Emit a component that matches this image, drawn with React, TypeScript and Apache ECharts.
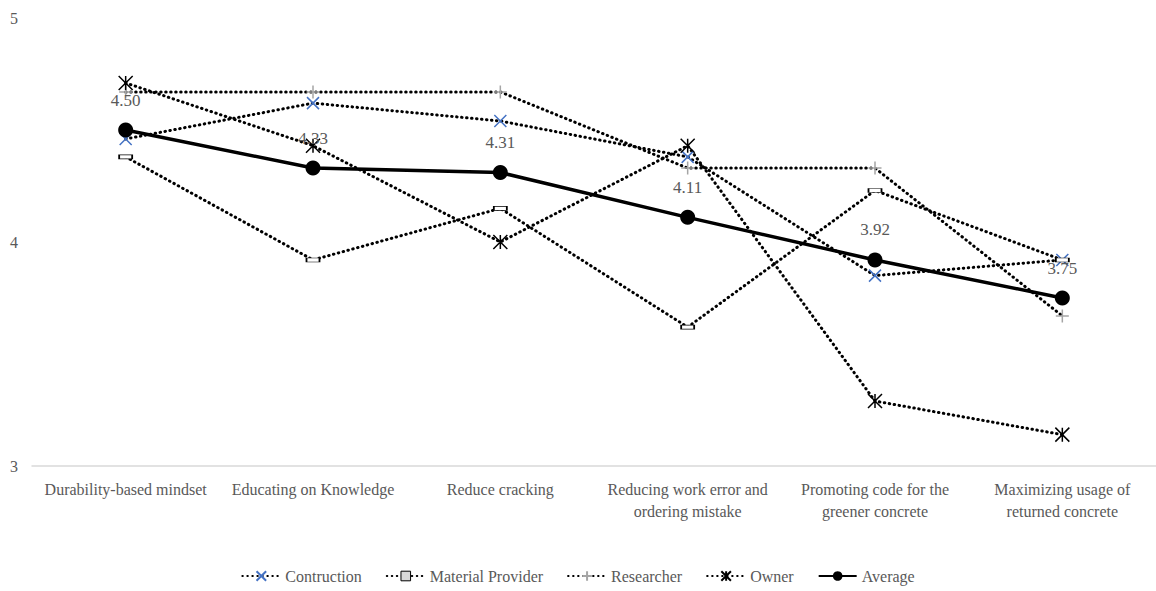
import React, { useEffect, useRef } from "react";
import * as echarts from "echarts";

const categories = [
  "Durability-based mindset",
  "Educating on Knowledge",
  "Reduce cracking",
  "Reducing work error and\nordering mistake",
  "Promoting code for the\ngreener concrete",
  "Maximizing usage of\nreturned concrete",
];
const contruction = [4.46, 4.62, 4.54, 4.38, 3.85, 3.92];
const materialProvider = [4.38, 3.92, 4.15, 3.62, 4.23, 3.92];
const researcher = [4.67, 4.67, 4.67, 4.33, 4.33, 3.67];
const owner = [4.71, 4.43, 4.0, 4.43, 3.29, 3.14];
const average = [4.5, 4.33, 4.31, 4.11, 3.92, 3.75];
const yTicks = { min: 3, max: 5, interval: 1 };

const FONT = "Liberation Serif";
const GRAY = "#595959";

const dotted = {
  color: "#000",
  width: 3,
  type: [0.5, 4.5] as any,
  cap: "round" as const,
};

export default function App() {
  const ref = useRef<HTMLDivElement>(null);
  useEffect(() => {
    if (!ref.current) return;
    const chart = echarts.init(ref.current, undefined, { renderer: "svg" });
    chart.setOption({
      animation: false,
      textStyle: { fontFamily: FONT },
      grid: { left: 32, right: -5, top: 18, bottom: 125, containLabel: false },
      legend: {
        bottom: 2,
        left: "center",
        itemWidth: 38,
        itemHeight: 12,
        itemGap: 24,
        textStyle: { color: GRAY, fontSize: 16, fontFamily: FONT },
        data: [
          { name: "Contruction" },
          { name: "Material Provider", itemStyle: { color: "#d9d9d9", borderColor: "#000", borderWidth: 1 } },
          { name: "Researcher" },
          { name: "Owner" },
          { name: "Average" },
        ],
      },
      xAxis: {
        type: "category",
        data: categories,
        boundaryGap: true,
        axisLine: { lineStyle: { color: "#d9d9d9", width: 1.5 } },
        axisTick: { show: false },
        axisLabel: {
          interval: 0,
          color: GRAY,
          fontSize: 16,
          lineHeight: 22,
          margin: 12,
          fontFamily: FONT,
        },
      },
      yAxis: {
        type: "value",
        min: yTicks.min,
        max: yTicks.max,
        interval: yTicks.interval,
        splitLine: { show: false },
        axisLine: { show: false },
        axisTick: { show: false },
        axisLabel: { color: GRAY, fontSize: 16, margin: 14, fontFamily: FONT },
      },
      series: [
        {
          name: "Contruction",
          type: "line",
          data: contruction,
          symbol: "path://M0,0L10,10M10,0L0,10",
          symbolSize: 12,
          lineStyle: dotted,
          itemStyle: { color: "#4472C4", borderColor: "#4472C4", borderWidth: 1.5 },
          z: 3,
        },
        {
          name: "Material Provider",
          type: "line",
          data: materialProvider,
          symbol: "rect",
          symbolSize: [13, 4],
          lineStyle: dotted,
          itemStyle: { color: "#ffffff", borderColor: "#000", borderWidth: 1 },
          z: 3,
        },
        {
          name: "Researcher",
          type: "line",
          data: researcher,
          symbol: "path://M5,0L5,10M0,5L10,5",
          symbolSize: 13,
          lineStyle: dotted,
          itemStyle: { color: "#A5A5A5", borderColor: "#A5A5A5", borderWidth: 1.5 },
          z: 3,
        },
        {
          name: "Owner",
          type: "line",
          data: owner,
          symbol: "path://M0,0L10,10M10,0L0,10M5,0L5,10",
          symbolSize: 14,
          lineStyle: dotted,
          itemStyle: { color: "#000", borderColor: "#000", borderWidth: 1.5 },
          z: 3,
        },
        {
          name: "Average",
          type: "line",
          data: average,
          symbol: "circle",
          symbolSize: 15,
          lineStyle: { color: "#000", width: 3.5 },
          itemStyle: { color: "#000" },
          label: {
            show: true,
            position: "top",
            distance: 14,
            color: GRAY,
            fontSize: 17,
            fontFamily: FONT,
            formatter: (p: any) => Number(p.value).toFixed(2),
          },
          z: 4,
        },
      ],
    });
    return () => chart.dispose();
  }, []);
  return (
    <div
      ref={ref}
      style={{ position: "fixed", left: 0, top: 0, width: 1156, height: 591, background: "#fff" }}
    />
  );
}
